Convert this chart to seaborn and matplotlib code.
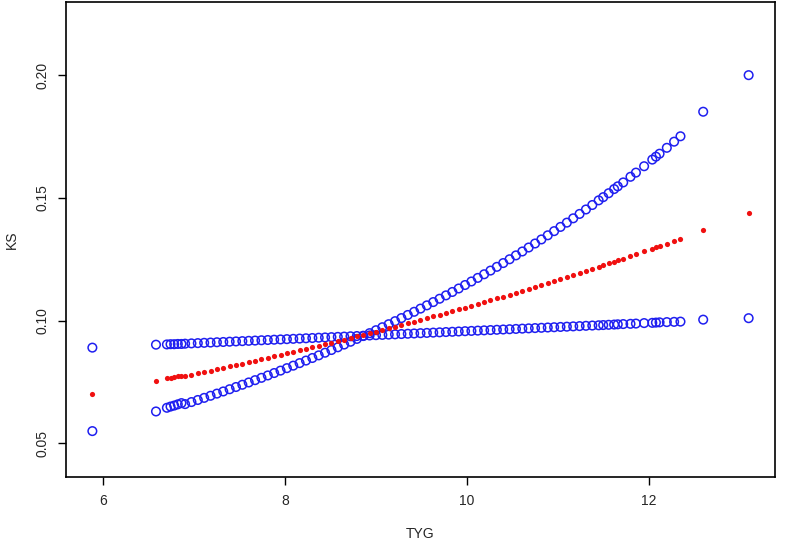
import matplotlib
matplotlib.use("Agg")
import matplotlib.pyplot as plt
import seaborn as sns
import pandas as pd

# TYG values (sparse tails, dense middle)
tyg_left = [5.88, 6.58, 6.70, 6.74, 6.78, 6.82, 6.86]
fit_left = [0.0700, 0.0755, 0.0765, 0.0768, 0.0771, 0.0774, 0.0774]
up_left = [0.0550, 0.0630, 0.0645, 0.0650, 0.0654, 0.0659, 0.0664]
lo_left = [0.0890, 0.0902, 0.0903, 0.0904, 0.0904, 0.0905, 0.0905]

tyg_mid = [6.90, 6.97, 7.04, 7.11, 7.18, 7.25, 7.32, 7.39, 7.46, 7.53, 7.60, 7.67, 7.74, 7.81,
           7.88, 7.95, 8.02, 8.09, 8.16, 8.23, 8.30, 8.37, 8.44, 8.51, 8.58, 8.65, 8.72, 8.79,
           8.86, 8.93, 9.00, 9.07, 9.14, 9.21, 9.28, 9.35, 9.42, 9.49, 9.56, 9.63, 9.70, 9.77,
           9.84, 9.91, 9.98, 10.05, 10.12, 10.19, 10.26, 10.33, 10.40, 10.47, 10.54, 10.61,
           10.68, 10.75, 10.82, 10.89, 10.96, 11.03, 11.10, 11.17, 11.24, 11.31]
fit_mid = [.07748, .07802, .07857, .07912, .07967, .08023, .08079, .08136, .08193, .08250,
           .08308, .08366, .08425, .08484, .08543, .08603, .08663, .08724, .08785, .08846,
           .08908, .08970, .09033, .09096, .09160, .09224, .09289, .09354, .09419, .09485,
           .09551, .09618, .09685, .09753, .09821, .09890, .09959, .10029, .10099, .10170,
           .10241, .10313, .10385, .10458, .10531, .10605, .10679, .10754, .10829, .10905,
           .10981, .11058, .11135, .11213, .11291, .11370, .11450, .11530, .11611, .11692,
           .11774, .11856, .11939, .12023]
up_mid = [.06600, .06683, .06767, .06853, .06939, .07027, .07115, .07205, .07296, .07388,
          .07481, .07575, .07670, .07767, .07865, .07964, .08064, .08166, .08269, .08373,
          .08478, .08585, .08693, .08803, .08914, .09026, .09140, .09255, .09372, .09490,
          .09610, .09731, .09854, .09978, .10104, .10231, .10360, .10490, .10622, .10756,
          .10892, .11029, .11168, .11309, .11451, .11595, .11741, .11889, .12039, .12191,
          .12345, .12500, .12658, .12817, .12979, .13142, .13308, .13476, .13646, .13818,
          .13992, .14168, .14347, .14528]
lo_mid = [.09061, .09073, .09084, .09096, .09107, .09119, .09130, .09142, .09153, .09165,
          .09177, .09188, .09200, .09211, .09223, .09234, .09246, .09258, .09269, .09281,
          .09292, .09304, .09315, .09327, .09338, .09350, .09362, .09373, .09385, .09396,
          .09408, .09419, .09431, .09442, .09454, .09466, .09477, .09489, .09500, .09512,
          .09523, .09535, .09546, .09558, .09570, .09581, .09593, .09604, .09616, .09627,
          .09639, .09650, .09662, .09674, .09685, .09697, .09708, .09720, .09731, .09743,
          .09754, .09766, .09777, .09789]

tyg_right = [11.38, 11.45, 11.50, 11.56, 11.62, 11.66, 11.72, 11.80, 11.86, 11.95, 12.04,
             12.08, 12.12, 12.20, 12.28, 12.35, 12.60, 13.10]
fit_right = [.1211, .1219, .1225, .1233, .1240, .1245, .1253, .1263, .1270, .1282, .1293,
             .1299, .1304, .1314, .1325, .1334, .1368, .1438]
up_right = [.1471, .1490, .1503, .1519, .1536, .1547, .1563, .1586, .1603, .1629, .1656,
            .1668, .1680, .1704, .1729, .1751, .1851, .2000]
lo_right = [.0980, .0981, .0982, .0983, .0984, .0985, .0986, .0987, .0988, .0990, .0991,
            .0992, .0993, .0994, .0995, .0996, .1004, .1010]

df = pd.DataFrame({
    "TYG": tyg_left + tyg_mid + tyg_right,
    "fit": fit_left + fit_mid + fit_right,
    "upper": up_left + up_mid + up_right,
    "lower": lo_left + lo_mid + lo_right,
})

sns.set_style("white")
plt.rcParams["font.family"] = ["Liberation Sans", "DejaVu Sans"]

fig = plt.figure(figsize=(7.87, 5.51), dpi=100)
ax = fig.add_axes([66 / 787, 1 - 477 / 551, (775 - 66) / 787, (477 - 2) / 551])

for col in ["upper", "lower"]:
    sns.scatterplot(data=df, x="TYG", y=col, ax=ax, marker="o", s=38,
                    facecolors="none", edgecolor="#1f1ff0", linewidth=1.1)
sns.scatterplot(data=df, x="TYG", y="fit", ax=ax, marker="o", s=14,
                color="#f01010", edgecolor="#f01010", linewidth=0)

ax.set_xlim(5.59, 13.39)
ax.set_ylim(0.0363, 0.2298)
ax.set_xticks([6, 8, 10, 12])
ax.set_yticks([0.05, 0.10, 0.15, 0.20])
ax.set_yticklabels(["0.05", "0.10", "0.15", "0.20"], rotation=90, va="center")
ax.tick_params(axis="both", direction="out", length=6, width=1, color="black",
               labelsize=10, bottom=True, left=True, pad=6)
ax.set_xlabel("TYG", fontsize=10, labelpad=14)
ax.set_ylabel("KS", fontsize=10, labelpad=12)
for s in ax.spines.values():
    s.set_color("black")
    s.set_linewidth(1.2)

fig.savefig("out.png", dpi=100)
